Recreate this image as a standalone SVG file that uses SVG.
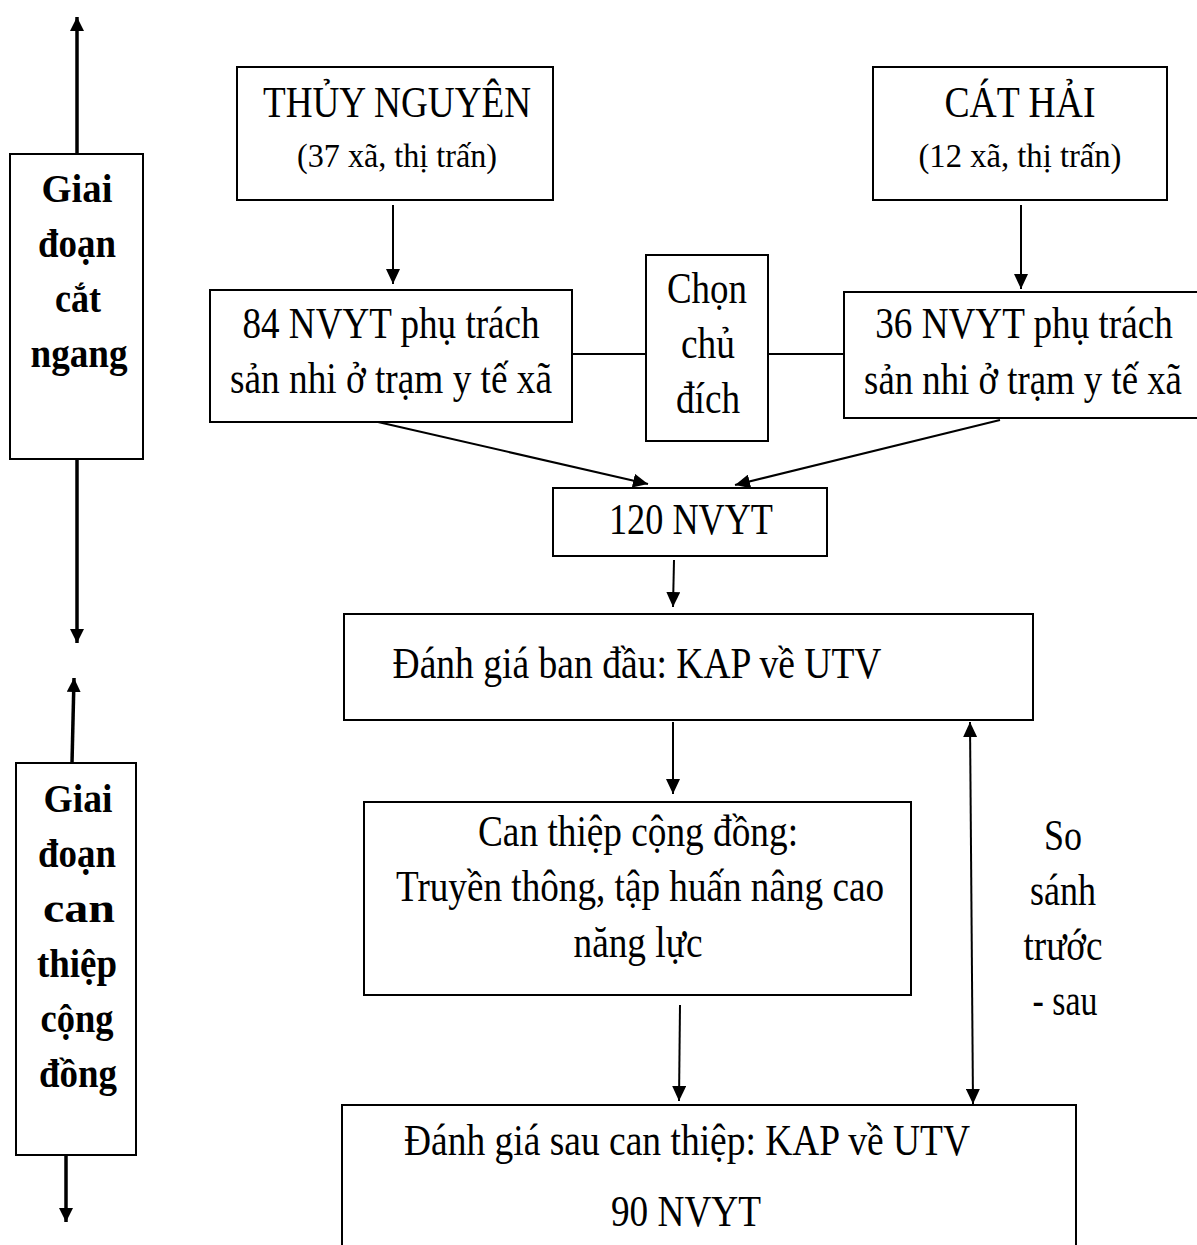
<svg xmlns="http://www.w3.org/2000/svg" width="1197" height="1245" viewBox="0 0 1197 1245">
<defs>
<marker id="ahs" viewBox="0 0 10 10" refX="10" refY="5" markerWidth="14" markerHeight="14" orient="auto-start-reverse" markerUnits="userSpaceOnUse">
<path d="M0,0 L10,5 L0,10 z" fill="#000"/>
</marker>
<marker id="ahb" viewBox="0 0 15 14" refX="15" refY="7" markerWidth="15" markerHeight="14" orient="auto-start-reverse" markerUnits="userSpaceOnUse">
<path d="M0,0 L15,7 L0,14 z" fill="#000"/>
</marker>
</defs>
<style>
.box{fill:#fff;stroke:#000;stroke-width:2}
.t{font-family:"Liberation Serif","Times New Roman",serif;font-size:44px;fill:#000;text-anchor:middle}
.s{font-size:33px}
.b{font-weight:bold;font-size:39px}
.c{stroke:#000;stroke-width:2;fill:none}
.cb{stroke:#000;stroke-width:3.5;fill:none}
</style>
<rect width="1197" height="1245" fill="#fff"/>
<g id="connectors">
<line class="cb" x1="77" y1="154" x2="77" y2="17" marker-end="url(#ahs)"/>
<line class="cb" x1="77" y1="459" x2="77" y2="643" marker-end="url(#ahs)"/>
<line class="cb" x1="72" y1="763" x2="74" y2="678" marker-end="url(#ahs)"/>
<line class="cb" x1="66" y1="1155" x2="66" y2="1222" marker-end="url(#ahs)"/>
<line class="c" x1="393" y1="205" x2="393" y2="284" marker-end="url(#ahb)"/>
<line class="c" x1="1021" y1="205" x2="1021" y2="289" marker-end="url(#ahb)"/>
<line class="c" x1="572" y1="354" x2="646" y2="354"/>
<line class="c" x1="768" y1="354" x2="844" y2="354"/>
<line class="c" x1="378" y1="422" x2="648" y2="484" marker-end="url(#ahb)"/>
<line class="c" x1="1000" y1="420" x2="735" y2="485" marker-end="url(#ahb)"/>
<line class="c" x1="674" y1="560" x2="673" y2="607" marker-end="url(#ahb)"/>
<line class="c" x1="673" y1="722" x2="673" y2="794" marker-end="url(#ahb)"/>
<line class="c" x1="680" y1="1005" x2="679" y2="1101" marker-end="url(#ahb)"/>
<line class="c" x1="970" y1="722" x2="973" y2="1104" marker-start="url(#ahb)" marker-end="url(#ahb)"/>
</g>
<g id="stage1">
<rect class="box" x="10" y="154" width="133" height="305"/>
<text class="t b" x="77" y="202" textLength="71" lengthAdjust="spacingAndGlyphs">Giai</text>
<text class="t b" x="77" y="257" textLength="78" lengthAdjust="spacingAndGlyphs">đoạn</text>
<text class="t b" x="78" y="312" textLength="46" lengthAdjust="spacingAndGlyphs">cắt</text>
<text class="t b" x="79" y="367" textLength="97" lengthAdjust="spacingAndGlyphs">ngang</text>
</g>
<g id="stage2">
<rect class="box" x="16" y="763" width="120" height="392"/>
<text class="t b" x="78" y="812" textLength="69" lengthAdjust="spacingAndGlyphs">Giai</text>
<text class="t b" x="77" y="867" textLength="78" lengthAdjust="spacingAndGlyphs">đoạn</text>
<text class="t b" x="79" y="922" textLength="72" lengthAdjust="spacingAndGlyphs">can</text>
<text class="t b" x="77" y="977" textLength="80" lengthAdjust="spacingAndGlyphs">thiệp</text>
<text class="t b" x="77" y="1032" textLength="73" lengthAdjust="spacingAndGlyphs">cộng</text>
<text class="t b" x="78" y="1087" textLength="78" lengthAdjust="spacingAndGlyphs">đồng</text>
</g>
<g id="thuy-nguyen">
<rect class="box" x="237" y="67" width="316" height="133"/>
<text class="t" x="397" y="117" textLength="268" lengthAdjust="spacingAndGlyphs">THỦY NGUYÊN</text>
<text class="t s" x="397" y="167" textLength="200" lengthAdjust="spacingAndGlyphs">(37 xã, thị trấn)</text>
</g>
<g id="cat-hai">
<rect class="box" x="873" y="67" width="294" height="133"/>
<text class="t" x="1020" y="117" textLength="151" lengthAdjust="spacingAndGlyphs">CÁT HẢI</text>
<text class="t s" x="1020" y="167" textLength="203" lengthAdjust="spacingAndGlyphs">(12 xã, thị trấn)</text>
</g>
<g id="nvyt84">
<rect class="box" x="210" y="290" width="362" height="132"/>
<text class="t" x="391" y="338" textLength="297" lengthAdjust="spacingAndGlyphs">84 NVYT phụ trách</text>
<text class="t" x="391" y="393" textLength="322" lengthAdjust="spacingAndGlyphs">sản nhi ở trạm y tế xã</text>
</g>
<g id="chon">
<rect class="box" x="646" y="255" width="122" height="186"/>
<text class="t" x="707" y="303" textLength="80" lengthAdjust="spacingAndGlyphs">Chọn</text>
<text class="t" x="708" y="358" textLength="54" lengthAdjust="spacingAndGlyphs">chủ</text>
<text class="t" x="708" y="413" textLength="64" lengthAdjust="spacingAndGlyphs">đích</text>
</g>
<g id="nvyt36">
<path class="box" d="M1197,292 H844 V418 H1197"/>
<text class="t" transform="translate(1024,338) scale(0.85,1)" x="0" y="0" textLength="350" lengthAdjust="spacingAndGlyphs">36 NVYT phụ trách</text>
<text class="t" transform="translate(1023,394) scale(0.85,1)" x="0" y="0" textLength="374" lengthAdjust="spacingAndGlyphs">sản nhi ở trạm y tế xã</text>
</g>
<g id="nvyt120">
<rect class="box" x="553" y="488" width="274" height="68"/>
<text class="t" x="691" y="534" textLength="164" lengthAdjust="spacingAndGlyphs">120 NVYT</text>
</g>
<g id="baseline">
<rect class="box" x="344" y="614" width="689" height="106"/>
<text class="t" x="637" y="678" textLength="489" lengthAdjust="spacingAndGlyphs">Đánh giá ban đầu: KAP về UTV</text>
</g>
<g id="intervention">
<rect class="box" x="364" y="802" width="547" height="193"/>
<text class="t" x="638" y="846" textLength="320" lengthAdjust="spacingAndGlyphs">Can thiệp cộng đồng:</text>
<text class="t" x="640" y="901" textLength="488" lengthAdjust="spacingAndGlyphs">Truyền thông, tập huấn nâng cao</text>
<text class="t" x="638" y="957" textLength="129" lengthAdjust="spacingAndGlyphs">năng lực</text>
</g>
<g id="compare">
<text class="t" x="1063" y="850" textLength="38" lengthAdjust="spacingAndGlyphs">So</text>
<text class="t" x="1063" y="905" textLength="66" lengthAdjust="spacingAndGlyphs">sánh</text>
<text class="t" x="1063" y="960" textLength="79" lengthAdjust="spacingAndGlyphs">trước</text>
<text class="t" x="1065" y="1015" textLength="65" lengthAdjust="spacingAndGlyphs">- sau</text>
</g>
<g id="post">
<path class="box" d="M342,1245 V1105 H1076 V1245"/>
<text class="t" x="687" y="1155" textLength="566" lengthAdjust="spacingAndGlyphs">Đánh giá sau can thiệp: KAP về UTV</text>
<text class="t" x="686" y="1226" textLength="150" lengthAdjust="spacingAndGlyphs">90 NVYT</text>
</g>
</svg>
